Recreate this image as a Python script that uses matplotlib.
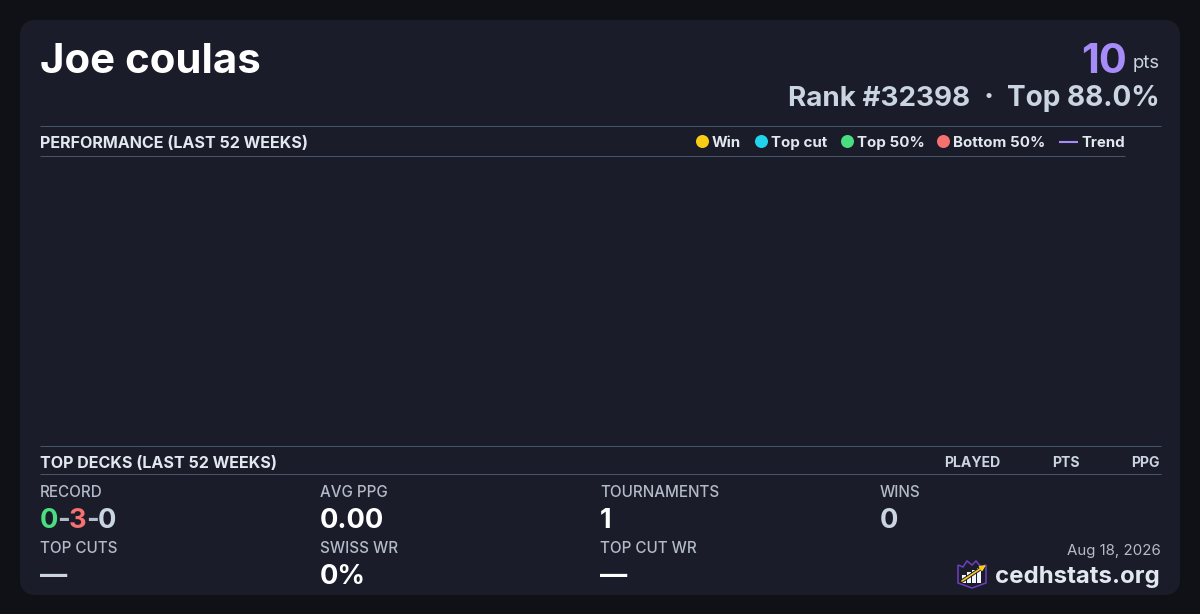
import matplotlib
matplotlib.use("Agg")
import matplotlib.pyplot as plt
from matplotlib.patches import FancyBboxPatch, Polygon, Rectangle, Circle

plt.rcParams['font.family'] = ['Inter', 'DejaVu Sans']

W, H, DPI = 1200, 614, 100
BG, CARD = '#0f1117', '#1a1d29'
RULE = '#475569'
WHITE = '#ffffff'
LIGHT = '#e2e8f0'
MID = '#cbd5e1'
MUTED = '#b4bbc8'
PURPLE = '#a78bfa'
GREEN = '#4ade80'
RED = '#f87171'

player = 'Joe coulas'
points = '10'
rank_text = 'Rank #32398'
top_text = 'Top 88.0%'
legend_labels = ['Win', 'Top cut', 'Top 50%', 'Bottom 50%']
legend_colors = ['#facc15', '#22d3ee', '#4ade80', '#f87171']
table_cols = ['PLAYED', 'PTS', 'PPG']
stat_labels = ['RECORD', 'AVG PPG', 'TOURNAMENTS', 'WINS',
               'TOP CUTS', 'SWISS WR', 'TOP CUT WR']
stat_values = ['', '0.00', '1', '0', '—', '0%', '—']
record = ['0', '-', '3', '-', '0']
date_text = 'Aug 18, 2026'
site = 'cedhstats.org'

fig = plt.figure(figsize=(W / DPI, H / DPI), dpi=DPI, facecolor=BG)
ax = fig.add_axes([0, 0, 1, 1])
ax.set_xlim(0, W)
ax.set_ylim(H, 0)
ax.axis('off')


def T(x, y, s, px, color=LIGHT, weight='bold', ha='left'):
    return ax.text(x, y, s, fontsize=px * 72 / DPI, color=color, weight=weight,
                   ha=ha, va='baseline')


def rule(x0, x1, y):
    ax.plot([x0, x1], [y, y], color=RULE, lw=0.72, solid_capstyle='butt')


ax.add_patch(FancyBboxPatch((20, 20), 1160, 575, boxstyle='round,pad=0,rounding_size=16',
                            fc=CARD, ec='none'))

T(40, 73, player, 42, WHITE)
T(1127, 73, points, 41.5, PURPLE, ha='right')
T(1160, 68, 'pts', 18.5, MID, 'normal', 'right')
T(1160, 106, top_text, 28, MID, ha='right')
T(989, 106, '·', 30, MID, ha='center')
T(970, 106, rank_text, 27.8, MID, ha='right')

rule(40, 1160.5, 126)
rule(40, 1125, 156)
T(40, 148, 'PERFORMANCE (LAST 52 WEEKS)', 16.1)

legend_x = [702.5, 761.5, 847.5, 943.5]
text_x = [712, 771, 857, 953]
for lx, tx, lab, c in zip(legend_x, text_x, legend_labels, legend_colors):
    ax.add_patch(Circle((lx, 141.5), 6.5, fc=c, ec='none'))
    T(tx, 147, lab, 15.1)
ax.plot([1059, 1078], [142, 142], color=PURPLE, lw=1.5, solid_capstyle='butt')
T(1081, 147, 'Trend', 15)

rule(40, 1160.5, 446)
rule(40, 1160.5, 474)
T(40, 468, 'TOP DECKS (LAST 52 WEEKS)', 16.1)
for xr, lab in zip([1000, 1080, 1160], table_cols):
    T(xr, 467, lab, 14, MID, ha='right')

cols = [40, 320, 600, 880, 40, 320, 600]
label_y = [497, 497, 497, 497, 553, 553, 553]
value_y = [528, 528, 528, 528, 584, 584, 584]
value_c = [WHITE, WHITE, WHITE, MID, MID, WHITE, WHITE]
for i, lab in enumerate(stat_labels):
    T(cols[i], label_y[i], lab, 15.2, MUTED, 'medium')
    if stat_values[i]:
        T(cols[i], value_y[i], stat_values[i], 27.2, value_c[i])

rec_colors = [GREEN, MUTED, RED, MUTED, MID]
x = 40
r = fig.canvas.get_renderer()
for s, c in zip(record, rec_colors):
    t = T(x, 528, s, 27.2, c)
    x = t.get_window_extent(r).x1 - 1.0

T(1160.5, 555, date_text, 15, MUTED, 'normal', 'right')
T(1160, 583, site, 24, LIGHT, ha='right')

# logo
shield = [(958, 565), (963, 567), (967, 561), (972, 565), (976, 561), (981, 567), (986, 565),
          (986, 583), (972, 588), (958, 583)]
ax.add_patch(Polygon(shield, closed=True, fc='#1a1d29', ec='#6d3fc0', lw=1.1))
for bx, by in zip([962, 967, 972, 977], [575, 572, 570, 568]):
    ax.add_patch(Rectangle((bx, by), 3.5, 583 - by, fc='#f1f5f9', ec='none'))
ax.plot([962, 983], [581, 567], color='#1a1d29', lw=2.6)
ax.annotate('', xy=(986, 565), xytext=(962, 581),
            arrowprops=dict(arrowstyle='-|>', color='#facc15', lw=1.2, mutation_scale=8,
                            shrinkA=0, shrinkB=0))

fig.savefig('out.png', dpi=DPI, facecolor=BG)
